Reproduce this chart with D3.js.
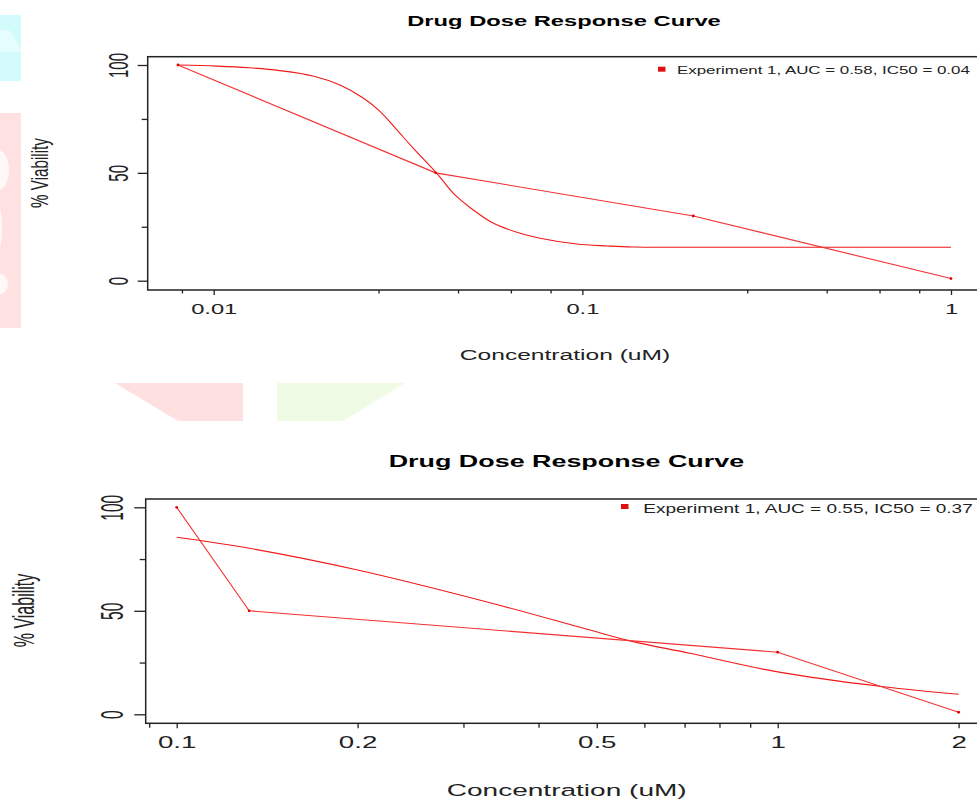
<!DOCTYPE html>
<html>
<head>
<meta charset="utf-8">
<title>Drug Dose Response Curve</title>
<style>
  body { margin: 0; background: #fff; }
  svg { display: block; }
  text { font-family: "Liberation Sans", Arial, sans-serif; fill: #222; }
</style>
</head>
<body>
<script src="https://cdn.jsdelivr.net/npm/d3@7"></script>
<script>

// top panel: measured points and fitted curve
var conc1 = [0.008, 0.04, 0.2, 1];
var viab1 = [100, 50, 30, 1];
var fitConc1 = [0.008, 0.0102, 0.0125, 0.0151, 0.0186, 0.022, 0.0255, 0.0283, 0.0314, 0.0348, 0.0403,
                0.0447, 0.0506, 0.0574, 0.0678, 0.0768, 0.0966, 0.117, 0.137, 0.2, 1];
var fitViab1 = [100, 99.5, 98.7, 97.4, 94.9, 90.7, 84.6, 78.4, 69.9, 61.4, 49.8,
                40.5, 32.8, 26.6, 22.0, 19.7, 17.0, 16.1, 15.6, 15.5, 15.5];
var xMajor1 = [0.01, 0.1, 1];
var xLabels1 = ["0.01", "0.1", "1"];
var xMinor1 = [0.0082, 0.028, 0.046, 0.064, 0.082, 0.28, 0.46, 0.64, 0.82];
var legend1 = "Experiment 1, AUC = 0.58, IC50 = 0.04";

// bottom panel
var conc2 = [0.1, 0.132, 1, 2];
var viab2 = [100, 50, 30, 1];
var fitConc2 = [0.1, 0.132, 0.2, 0.332, 0.487, 0.575, 0.714, 0.995, 1.5, 2];
var fitViab2 = [85.5, 80.2, 69.7, 53.9, 40.7, 35.1, 29.5, 20.6, 13.3, 9.7];
var xMajor2 = [0.1, 0.2, 0.5, 1, 2];
var xLabels2 = ["0.1", "0.2", "0.5", "1", "2"];
var xMinor2 = [0.09, 0.3, 0.4, 0.6, 0.7, 0.8, 0.9];
var legend2 = "Experiment 1, AUC = 0.55, IC50 = 0.37";

var yMajor = [0, 50, 100];
var yLabels = ["0", "50", "100"];
var yMinor = [25, 75];

var title = "Drug Dose Response Curve";
var xTitle = "Concentration (uM)";
var yTitle = "% Viability";

var w = 977, h = 800;

var svg = d3.select("body").append("svg")
    .attr("width", w)
    .attr("height", h);

// faint watermark behind the charts
var bg = svg.append("g");
bg.append("rect").attr("x", 0).attr("y", 15).attr("width", 21).attr("height", 66).attr("fill", "#d3fbfb");
bg.append("path").attr("d", "M0,30 L9,30 L21,48 L21,52 L0,52 Z").attr("fill", "#e6fdfd");
bg.append("rect").attr("x", 0).attr("y", 113).attr("width", 21).attr("height", 215).attr("fill", "#ffe1e1");
bg.append("ellipse").attr("cx", -2).attr("cy", 170).attr("rx", 11).attr("ry", 20).attr("fill", "#fff8f8");
bg.append("ellipse").attr("cx", -8).attr("cy", 228).attr("rx", 10).attr("ry", 32).attr("fill", "#fff8f8");
bg.append("ellipse").attr("cx", -2).attr("cy", 284).attr("rx", 10).attr("ry", 11).attr("fill", "#fff8f8");
bg.append("path").attr("d", "M115,383 L243,383 L243,421 L178,421 Z").attr("fill", "#ffe0e0");
bg.append("path").attr("d", "M277,383 L405,383 L343,421 L277,421 Z").attr("fill", "#f0fbe5");

function scaledText(g, str, x, y, size, k, anchor, weight, rotate) {
    var tf = "translate(" + x + "," + y + ")" +
        (rotate ? " rotate(-90) scale(1," + k + ")" : " scale(" + k + ",1)");
    return g.append("text")
        .attr("transform", tf)
        .attr("text-anchor", anchor)
        .attr("font-size", size)
        .attr("font-weight", weight || "normal")
        .text(str);
}

function drawPanel(p) {
    var x = d3.scaleLog().domain(p.xDomain).range(p.xRange);
    var y = d3.scaleLinear().domain([0, 100]).range(p.yRange);
    var g = svg.append("g");

    // plot frame (runs off the right edge like the original)
    g.append("rect")
        .attr("x", p.left).attr("y", p.top)
        .attr("width", w + 20 - p.left).attr("height", p.bottom - p.top)
        .attr("fill", "none").attr("stroke", "#222").attr("stroke-width", 1.5);

    // x axis
    var xm = g.append("g")
        .attr("transform", "translate(0," + p.bottom + ")")
        .call(d3.axisBottom(x).tickValues(p.xMinor).tickSize(p.minorLen).tickFormat(""));
    var xa = g.append("g")
        .attr("transform", "translate(0," + p.bottom + ")")
        .call(d3.axisBottom(x).tickValues(p.xMajor).tickSize(5)
            .tickFormat(function(d, i) { return p.xLabels[i]; }));
    xa.selectAll("text")
        .attr("y", p.xTickBase - p.bottom).attr("dy", null)
        .attr("font-size", p.xTickSize)
        .attr("transform", "scale(" + p.xTickK + ",1)");

    // y axis
    var ym = g.append("g")
        .attr("transform", "translate(" + p.left + ",0)")
        .call(d3.axisLeft(y).tickValues(yMinor).tickSize(6).tickFormat(""));
    var ya = g.append("g")
        .attr("transform", "translate(" + p.left + ",0)")
        .call(d3.axisLeft(y).tickValues(yMajor).tickSize(p.left - p.yTickEnd)
            .tickFormat(function(d, i) { return yLabels[i]; }));
    ya.selectAll("text")
        .attr("x", null).attr("dy", null)
        .attr("text-anchor", "middle")
        .attr("font-size", p.yTickSize)
        .attr("transform", "translate(" + (p.yTickBase - p.left) + ",0) rotate(-90) scale(1," + p.yTickK + ")");

    [xm, xa, ym, ya].forEach(function(a) {
        a.select(".domain").remove();
        a.attr("font-family", null);
        a.selectAll("line").attr("stroke", "#222").attr("stroke-width", 1.3);
    });

    var line = d3.line()
        .x(function(d) { return x(d[0]); })
        .y(function(d) { return y(d[1]); });

    // fitted curve
    g.append("path")
        .datum(d3.zip(p.fitConc, p.fitViab))
        .attr("d", line.curve(d3.curveCatmullRom.alpha(0.5)))
        .attr("fill", "none").attr("stroke", "#f01818").attr("stroke-width", 1.1);

    // observed points joined by straight segments
    var obs = d3.zip(p.conc, p.viab);
    g.append("path")
        .datum(obs)
        .attr("d", line.curve(d3.curveLinear))
        .attr("fill", "none").attr("stroke", "#f53030").attr("stroke-width", 1.1);
    g.selectAll("circle.pt")
        .data(obs)
        .enter().append("circle")
        .attr("class", "pt")
        .attr("cx", function(d) { return x(d[0]); })
        .attr("cy", function(d) { return y(d[1]); })
        .attr("r", 1.4)
        .attr("fill", "#e00000");

    // legend
    g.append("rect")
        .attr("x", p.legX).attr("y", p.legY - 2.5)
        .attr("width", 7.5).attr("height", 5)
        .attr("fill", "#e01010");
    scaledText(g, p.legend, p.legTextX, p.legBase, p.legSize, p.legK, "start");

    // titles
    scaledText(g, title, p.titleX, p.titleBase, p.titleSize, p.titleK, "middle", "bold").style("fill", "#000");
    scaledText(g, xTitle, p.xTitleX, p.xTitleBase, p.xTitleSize, p.xTitleK, "middle");
    scaledText(g, yTitle, p.yTitleBase, p.yTitleY, p.yTitleSize, p.yTitleK, "middle", null, true);
}

drawPanel({
    conc: conc1, viab: viab1, fitConc: fitConc1, fitViab: fitViab1,
    xMajor: xMajor1, xLabels: xLabels1, xMinor: xMinor1, legend: legend1,
    xDomain: [0.01, 1], xRange: [213.7, 951],
    yRange: [280.7, 65],
    left: 147.7, top: 56.7, bottom: 290, minorLen: 3.5,
    xTickBase: 314.3, xTickSize: 15, xTickK: 1.58,
    yTickEnd: 137.7, yTickBase: 127.5, yTickSize: 15, yTickK: 1.85,
    legX: 658, legY: 69.2, legTextX: 677, legBase: 74, legSize: 11.5, legK: 1.47,
    titleX: 564, titleBase: 26, titleSize: 15.4, titleK: 1.54,
    xTitleX: 565, xTitleBase: 360, xTitleSize: 15, xTitleK: 1.64,
    yTitleBase: 47.6, yTitleY: 173, yTitleSize: 15.2, yTitleK: 1.6
});

drawPanel({
    conc: conc2, viab: viab2, fitConc: fitConc2, fitViab: fitViab2,
    xMajor: xMajor2, xLabels: xLabels2, xMinor: xMinor2, legend: legend2,
    xDomain: [0.1, 1], xRange: [176.7, 777.7],
    yRange: [714.3, 507.3],
    left: 145.7, top: 499, bottom: 723.3, minorLen: 4.5,
    xTickBase: 748.3, xTickSize: 16.3, xTickK: 1.7,
    yTickEnd: 134.3, yTickBase: 123.3, yTickSize: 15.5, yTickK: 2,
    legX: 621, legY: 506.5, legTextX: 643.3, legBase: 512.7, legSize: 12.5, legK: 1.52,
    titleX: 566.4, titleBase: 466.7, titleSize: 16.3, titleK: 1.65,
    xTitleX: 566.7, xTitleBase: 796, xTitleSize: 16.5, xTitleK: 1.7,
    yTitleBase: 34.4, yTitleY: 610.5, yTitleSize: 16, yTitleK: 1.86
});

</script>
</body>
</html>
